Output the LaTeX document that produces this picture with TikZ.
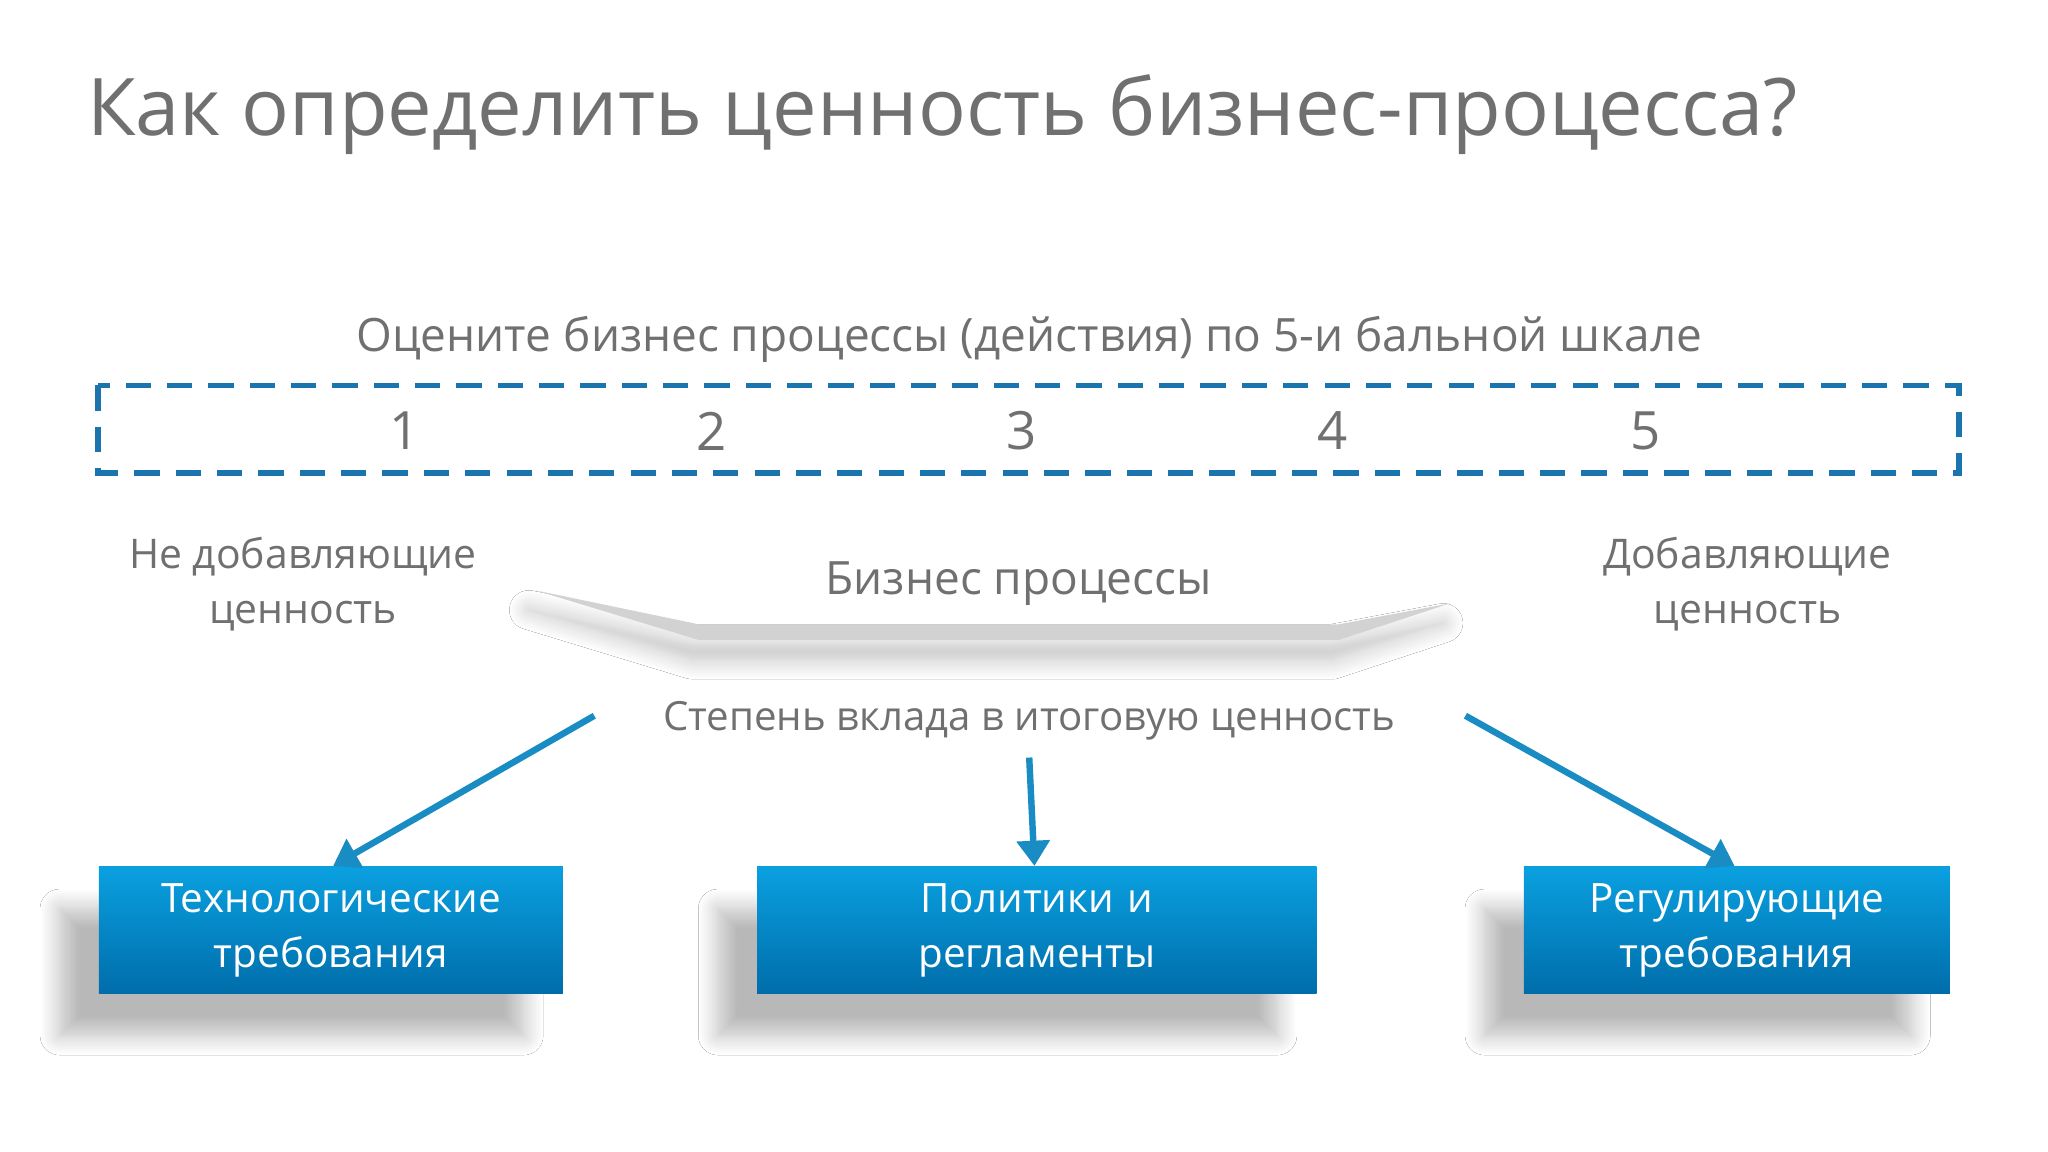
\documentclass[tikz,border=0pt]{standalone}
\usepackage{fontspec}
\setmainfont{Open Sans}
\usetikzlibrary{shadows.blur,arrows.meta}
\definecolor{txt}{HTML}{707070}
\definecolor{dblue}{HTML}{1A75AE}
\definecolor{abl}{HTML}{1A8CC4}
\definecolor{btop}{HTML}{0AA0E0}
\definecolor{bbot}{HTML}{006DAA}
\tikzset{
  lbl/.style={text=txt,font=\fontsize{8.9}{12}\selectfont,align=center,inner sep=0},
  bx/.style={top color=btop,bottom color=bbot,draw=none,text=white,align=center,
    font=\fontsize{8.8}{12}\selectfont,anchor=north west,inner sep=0,
    blur shadow={shadow xshift=-0.3cm,shadow yshift=-0.32cm,shadow blur steps=12,shadow blur radius=0.15cm,shadow opacity=28}},
  arr/.style={draw=abl,line width=1.4pt,-{Triangle[length=5.5pt,width=7pt]}}
}
\begin{document}
\begin{tikzpicture}[x=0.01cm,y=-0.01cm]
\fill[white] (0,0) rectangle (1568,882);
\node[anchor=west,text=txt,font=\fontsize{17.3}{20}\selectfont,inner sep=0] (title) at (66,88) {Как определить ценность бизнес-процесса?};
\node[lbl,font=\fontsize{10}{12}\selectfont] (sub) at (788,260) {Оцените бизнес процессы (действия) по 5-и бальной шкале};
\draw[dblue,line width=1.2pt,dash pattern=on 5.5pt off 3.5pt] (75,295) rectangle (1500,362);
\foreach \x/\n [count=\i] in {310/1,545/2,782/3,1020/4,1260/5}
  \node[lbl,font=\fontsize{11.5}{13}\selectfont] (n\i) at (\x,330) {\n};
\node[lbl] (nodd) at (232,447) {Не добавляющие\\ценность};
\node[lbl] (dob) at (1338,447) {Добавляющие\\ценность};
\node[lbl,font=\fontsize{10}{12}\selectfont] (bp) at (780,447) {Бизнес процессы};
\fill[gray!35,blur shadow={shadow xshift=-0.05cm,shadow yshift=-0.15cm,shadow blur steps=12,shadow blur radius=0.15cm,shadow opacity=25}]
  (410,452) -- (535,478) -- (1025,478) -- (1110,462) -- (1025,490) -- (535,490) -- cycle;
\node[lbl,font=\fontsize{8.75}{12}\selectfont] (st) at (788,552) {Степень вклада в итоговую ценность};
\node[bx,text width=3.4cm,minimum width=3.55cm,minimum height=0.97cm] (b1) at (75,663) {Технологические\\требования};
\node[bx,text width=4.2cm,minimum width=4.28cm,minimum height=0.97cm] (b2) at (579,663) {Политики и\\регламенты};
\node[bx,text width=3.2cm,minimum width=3.26cm,minimum height=0.97cm] (b3) at (1166,663) {Регулирующие\\требования};
\coordinate (a1) at (455,548);
\coordinate (a2) at (788,580);
\coordinate (a3) at (1122,548);
\draw[arr] (a1) -- (b1.north -| 255,0);
\draw[arr] (a2) -- (b2.north -| 792,0);
\draw[arr] (a3) -- (b3.north -| 1328,0);
\end{tikzpicture}
\end{document}
